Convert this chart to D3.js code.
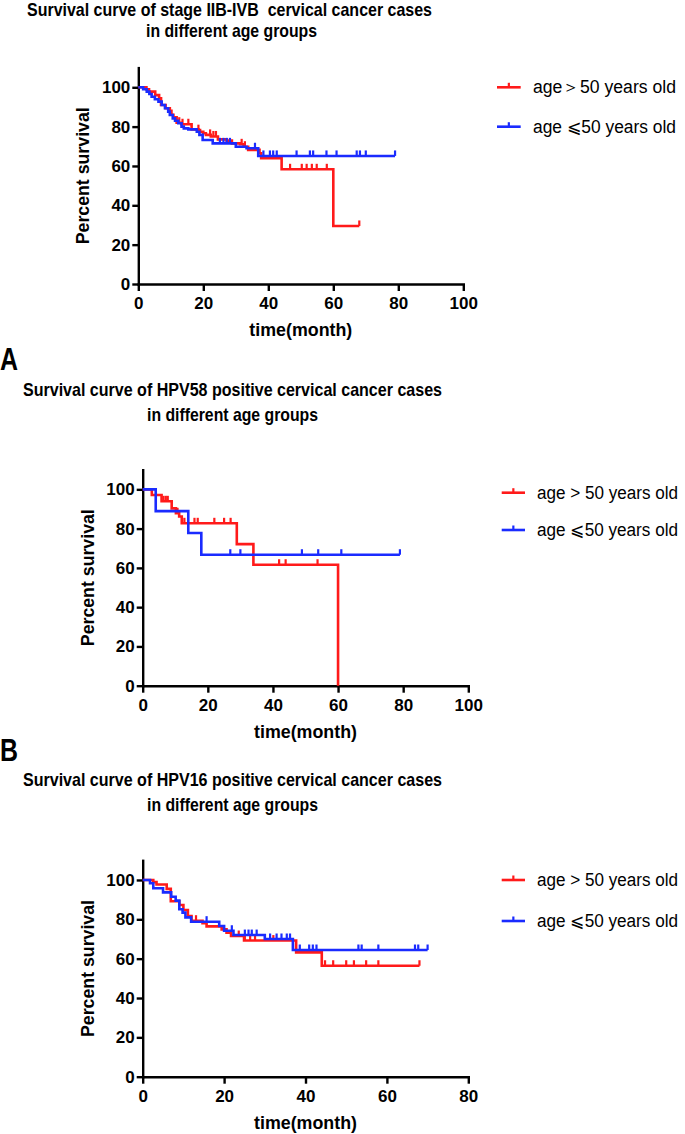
<!DOCTYPE html>
<html><head><meta charset="utf-8">
<script src="https://cdn.jsdelivr.net/npm/d3@7"></script>
<style>
html,body{margin:0;padding:0;background:#fff;}
svg{display:block;}
text{font-family:"Liberation Sans",Arial,Helvetica,sans-serif;fill:#000;white-space:pre;}
</style></head><body>
<svg id="c" width="685" height="1134"></svg>
<script>
// ---------------- DATA ----------------
const yTicks = [0, 20, 40, 60, 80, 100];
const xTicksA = [0, 20, 40, 60, 80, 100];
const xTicksB = [0, 20, 40, 60, 80];

const titles1 = ["Survival curve of stage IIB-IVB  cervical cancer cases", "in different age groups"];
const titles2 = ["Survival curve of HPV58 positive cervical cancer cases", "in different age groups"];
const titles3 = ["Survival curve of HPV16 positive cervical cancer cases", "in different age groups"];
const panelLetters = ["A", "B"];
const legend1 = ["age\uFF1E50 years old", "age \u2A7D50 years old"];
const legend23 = ["age > 50 years old", "age \u2A7D50 years old"];
const xTitle = "time(month)";
const yTitle = "Percent survival";

// Chart 1: stage IIB-IVB  [time, percent survival] steps
const red1 = [[0,100],[2.5,99],[3.3,97.8],[5.2,96],[6.4,94.4],[7.0,91],[8.4,89.3],[9.7,88.1],[10.2,86],[10.8,84.8],[11.8,82],[13.3,81.2],[16.4,78.6],[18.5,78.2],[19,77.4],[20,76.6],[20.8,75.8],[22.3,75],[24.5,73.5],[27.2,72.9],[28.8,71.5],[31.3,71],[32.4,69.8],[33.8,68.2],[37.3,66.5],[37.8,63.9],[44.1,58.3],[60,29.5]];
const red1End = 68;
const red1Censor = [12.6,13.6,15.4,18.5,22.1,23.1,23.9,31.8,32.8,46.7,50.3,51.8,53.4,54.9,58,68];
const blue1 = [[0,100],[1.5,99],[2.6,97.8],[3.4,96.6],[4.1,95.2],[5.1,93.9],[6.2,92.7],[7.2,91],[8.2,89.3],[9.2,87.6],[9.7,85.9],[10.6,84.2],[11.3,83],[12.3,81.7],[13.3,80],[14,79.1],[15.4,78.6],[18,77.4],[18.8,75.8],[19.8,73.2],[22.9,71.5],[30,69.8],[33.3,69],[36.9,65.1]];
const blue1End = 79;
const blue1Censor = [25.1,26.2,27.2,28.2,35.9,38.5,40.5,41.5,42.6,48.7,52.8,53.8,57.9,61,67.2,68.2,70,79];

// Chart 2: HPV58
const red2 = [[0,100],[2.8,97.1],[5.8,93.9],[8.9,90.3],[10.2,87.8],[11.2,86.2],[12,82.7],[28.9,72.1],[34,61.6],[60,0]];
const red2End = 60;
const red2Censor = [6.4,7.1,7.7,10.7,12.8,15.9,16.9,22,25,27,41.9,43.9,53.7];
const blue2 = [[0,100],[4,88.9],[14,77.8],[18,66.7]];
const blue2End = 79;
const blue2Censor = [26.9,30,48.9,53.9,61,79];

// Chart 3: HPV16
const red3 = [[0,100],[2.6,98.9],[3.4,97.7],[5.9,95.5],[6.9,89.2],[9,87.3],[10,84.7],[11.1,81.7],[12,79.3],[14.7,78],[15.7,76.4],[19.4,74.9],[20.6,73.2],[21.7,71.5],[24.9,69.2],[37.7,63.2],[44,56.4]];
const red3End = 68;
const red3Censor = [13.1,23.6,25.1,26.4,27.6,32.1,44.8,46.8,50,51.9,54.9,57.9,68];
const blue3 = [[0,100],[1.8,98.3],[2.6,95.8],[5,93.7],[7,91.5],[8.1,89.5],[9,85.1],[9.8,83.4],[10.5,81],[11.9,78.8],[18.8,76.6],[20,74.2],[22.3,72],[30,70],[36.9,64.4]];
const blue3End = 70;
const blue3Censor = [15.7,21.9,25.1,26,26.8,28,31.3,32.9,34.1,35.4,36.2,38.6,40.9,41.8,42.7,53,53.8,57.9,66.9,67.7,70];

// ---------------- DRAWING ----------------
const RED = "#ff1a1a", BLUE = "#1a2bff";
const svg = d3.select("#c");

function survAt(steps, t) {
  let v = steps[0][1];
  for (const s of steps) { if (s[0] <= t + 1e-9) v = s[1]; }
  return v;
}

function drawChart(cfg) {
  const g = svg.append("g");
  const x = d3.scaleLinear().domain([0, cfg.xMax]).range([cfg.x0, cfg.x1]);
  const y = d3.scaleLinear().domain([0, 110]).range([cfg.y0, cfg.yTop]);

  // titles
  cfg.titles.forEach((t, i) => {
    g.append("text").attr("x", cfg.titleCx[i]).attr("y", cfg.titleY[i])
      .attr("text-anchor", "middle").attr("font-size", 18.5).attr("font-weight", "bold")
      .attr("textLength", cfg.titleLen[i]).attr("lengthAdjust", "spacingAndGlyphs").text(t);
  });
  if (cfg.letter) {
    g.append("text").attr("x", 0).attr("y", cfg.letterY).attr("font-size", 32).attr("font-weight", "bold")
      .attr("textLength", 18).attr("lengthAdjust", "spacingAndGlyphs").text(cfg.letter);
  }

  // axes
  const ya = g.append("g").attr("transform", `translate(${cfg.x0},0)`)
    .call(d3.axisLeft(y).tickValues(yTicks).tickSize(6).tickPadding(2).tickSizeOuter(0));
  const xa = g.append("g").attr("transform", `translate(0,${cfg.y0})`)
    .call(d3.axisBottom(x).tickValues(cfg.xTicks).tickSize(7).tickPadding(6).tickSizeOuter(0));
  [ya, xa].forEach(a => {
    a.selectAll(".domain").attr("stroke", "#000").attr("stroke-width", 2.4).attr("stroke-linecap", "square");
    a.selectAll(".tick line").attr("stroke", "#000").attr("stroke-width", 2.4);
    a.selectAll(".tick text").attr("font-size", 17).attr("font-weight", "bold")
      .attr("font-family", '"Liberation Sans",Arial,sans-serif').attr("fill", "#000");
  });

  // axis titles
  g.append("text").attr("transform", `translate(${cfg.x0 - 49},${(cfg.y0 + cfg.yTop) / 2}) rotate(-90)`)
    .attr("text-anchor", "middle").attr("font-size", 18).attr("font-weight", "bold")
    .attr("textLength", 137).attr("lengthAdjust", "spacingAndGlyphs").text(yTitle);
  g.append("text").attr("x", (cfg.x0 + cfg.x1) / 2).attr("y", cfg.y0 + 52)
    .attr("text-anchor", "middle").attr("font-size", 18).attr("font-weight", "bold")
    .attr("textLength", 103).attr("lengthAdjust", "spacingAndGlyphs").text(xTitle);

  // curves
  const line = d3.line().x(d => x(d[0])).y(d => y(d[1])).curve(d3.curveStepAfter);
  cfg.series.forEach(s => {
    const pts = s.steps.concat([[s.end, s.steps[s.steps.length - 1][1]]]);
    g.append("path").datum(pts).attr("d", line).attr("fill", "none")
      .attr("stroke", s.color).attr("stroke-width", 2.6).attr("stroke-linejoin", "miter");
    g.selectAll(null).data(s.censor).enter().append("line")
      .attr("x1", d => x(d)).attr("x2", d => x(d))
      .attr("y1", d => y(survAt(s.steps, d)))
      .attr("y2", d => y(survAt(s.steps, d)) - 5.5)
      .attr("stroke", s.color).attr("stroke-width", 2.2);
  });

  // legend
  cfg.series.forEach((s, i) => {
    const ly = cfg.legendY[i];
    g.append("line").attr("x1", cfg.legX0).attr("x2", cfg.legX1).attr("y1", ly).attr("y2", ly)
      .attr("stroke", s.color).attr("stroke-width", 2.6);
    const mx = (cfg.legX0 + cfg.legX1) / 2;
    g.append("line").attr("x1", mx).attr("x2", mx).attr("y1", ly).attr("y2", ly - 4.5)
      .attr("stroke", s.color).attr("stroke-width", 2.2);
    g.append("text").attr("x", cfg.legTextX).attr("y", ly + 6).attr("font-size", 18)
      .attr("textLength", cfg.legLen).attr("lengthAdjust", "spacingAndGlyphs").text(cfg.legend[i]);
  });
}

drawChart({
  x0: 138.3, x1: 463.3, y0: 284, yTop: 67.6, xMax: 100, xTicks: xTicksA,
  titles: titles1, titleCx: [229.5, 231.5], titleY: [15.5, 36.5], titleLen: [405, 171],
  legend: legend1, legendY: [87.3, 126.7], legX0: 497, legX1: 520.7, legTextX: 533, legLen: 143,
  series: [
    {steps: red1, end: red1End, censor: red1Censor, color: RED},
    {steps: blue1, end: blue1End, censor: blue1Censor, color: BLUE}
  ]
});
drawChart({
  x0: 142.7, x1: 468.3, y0: 685.7, yTop: 469.7, xMax: 100, xTicks: xTicksA,
  titles: titles2, titleCx: [232.5, 232.5], titleY: [395.5, 420.5], titleLen: [419, 171],
  letter: panelLetters[0], letterY: 370,
  legend: legend23, legendY: [492.7, 530], legX0: 501.7, legX1: 525, legTextX: 537, legLen: 141,
  series: [
    {steps: red2, end: red2End, censor: red2Censor, color: RED},
    {steps: blue2, end: blue2End, censor: blue2Censor, color: BLUE}
  ]
});
drawChart({
  x0: 142.7, x1: 468.3, y0: 1076.7, yTop: 860.3, xMax: 80, xTicks: xTicksB,
  titles: titles3, titleCx: [232.5, 232.5], titleY: [786, 811], titleLen: [419, 171],
  letter: panelLetters[1], letterY: 761,
  legend: legend23, legendY: [880, 921], legX0: 501.7, legX1: 525, legTextX: 537, legLen: 141,
  series: [
    {steps: red3, end: red3End, censor: red3Censor, color: RED},
    {steps: blue3, end: blue3End, censor: blue3Censor, color: BLUE}
  ]
});
</script>
</body></html>
